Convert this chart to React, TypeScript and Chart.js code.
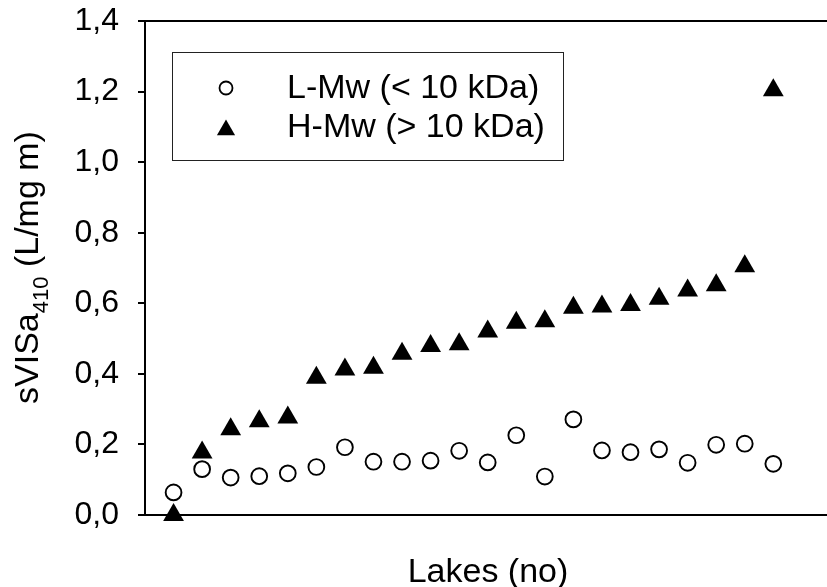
import React, { useEffect, useRef } from 'react';
import { Chart, registerables } from 'chart.js';

Chart.register(...registerables);

// Lake index (sorted by H-Mw absorbance)
const lakes = [1, 2, 3, 4, 5, 6, 7, 8, 9, 10, 11, 12, 13, 14, 15, 16, 17, 18, 19, 20, 21, 22];

// Specific visible absorbance at 410 nm, low molecular weight fraction
const lowMw = [0.064, 0.130, 0.106, 0.110, 0.118, 0.136, 0.192, 0.151, 0.151, 0.154, 0.182, 0.149, 0.226, 0.109, 0.271, 0.183, 0.178, 0.186, 0.148, 0.199, 0.202, 0.145];

// Specific visible absorbance at 410 nm, high molecular weight fraction
const highMw = [0.0, 0.177, 0.243, 0.266, 0.276, 0.389, 0.412, 0.417, 0.457, 0.479, 0.484, 0.520, 0.545, 0.549, 0.587, 0.591, 0.595, 0.613, 0.636, 0.651, 0.705, 1.204];

const yTickLabels = ['0,0', '0,2', '0,4', '0,6', '0,8', '1,0', '1,2', '1,4'];
const seriesNames = ['L-Mw (< 10 kDa)', 'H-Mw (> 10 kDa)'];
const xTitle = 'Lakes (no)';
const yTitleMain = 'sVISa';
const yTitleSub = '410';
const yTitleUnit = ' (L/mg m)';

const FONT = 'Arial, "Liberation Sans", sans-serif';

const decorations = {
  id: 'decorations',
  afterDraw(chart: any) {
    const { ctx, chartArea } = chart;
    ctx.save();

    // top frame line
    ctx.strokeStyle = '#000';
    ctx.lineWidth = 2;
    ctx.beginPath();
    ctx.moveTo(chartArea.left - 1, chartArea.top);
    ctx.lineTo(chartArea.right, chartArea.top);
    ctx.stroke();

    // legend box
    ctx.lineWidth = 1;
    ctx.strokeStyle = '#222';
    ctx.strokeRect(172.5, 52.5, 391, 108);

    // legend markers
    ctx.fillStyle = '#fff';
    ctx.strokeStyle = '#000';
    ctx.lineWidth = 1.8;
    ctx.beginPath();
    ctx.arc(226, 88, 6.5, 0, Math.PI * 2);
    ctx.fill();
    ctx.stroke();

    const r = 10.5;
    const tx = 226;
    const ty = 130;
    ctx.fillStyle = '#000';
    ctx.beginPath();
    ctx.moveTo(tx, ty - r);
    ctx.lineTo(tx + r * Math.sin((2 * Math.PI) / 3), ty + r / 2);
    ctx.lineTo(tx - r * Math.sin((2 * Math.PI) / 3), ty + r / 2);
    ctx.closePath();
    ctx.fill();

    // legend text
    ctx.fillStyle = '#000';
    ctx.font = `34px ${FONT}`;
    ctx.textAlign = 'left';
    ctx.textBaseline = 'alphabetic';
    ctx.fillText(seriesNames[0], 287, 98);
    ctx.fillText(seriesNames[1], 287, 137);

    // x axis title
    ctx.textAlign = 'center';
    ctx.fillText(xTitle, 488, 582);

    // y axis title with subscript
    ctx.font = `34px ${FONT}`;
    const w1 = ctx.measureText(yTitleMain).width;
    const w3 = ctx.measureText(yTitleUnit).width;
    ctx.font = `22px ${FONT}`;
    const w2 = ctx.measureText(yTitleSub).width;
    const total = w1 + w2 + w3;
    ctx.translate(38, 267.5);
    ctx.rotate(-Math.PI / 2);
    ctx.textAlign = 'left';
    ctx.font = `34px ${FONT}`;
    ctx.fillText(yTitleMain, -total / 2, 0);
    ctx.font = `22px ${FONT}`;
    ctx.fillText(yTitleSub, -total / 2 + w1, 10);
    ctx.font = `34px ${FONT}`;
    ctx.fillText(yTitleUnit, -total / 2 + w1 + w2, 0);

    ctx.restore();
  },
};

export default function App() {
  const canvasRef = useRef<HTMLCanvasElement | null>(null);

  useEffect(() => {
    const canvas = canvasRef.current;
    if (!canvas) return;
    const chart = new Chart(canvas, {
      type: 'scatter',
      data: {
        datasets: [
          {
            label: seriesNames[0],
            data: lakes.map((x, i) => ({ x, y: lowMw[i] })),
            pointStyle: 'circle',
            pointRadius: 7.9,
            pointBorderWidth: 1.9,
            pointBackgroundColor: '#fff',
            pointBorderColor: '#000',
            clip: false,
          },
          {
            label: seriesNames[1],
            data: lakes.map((x, i) => ({ x, y: highMw[i] })),
            pointStyle: 'triangle',
            pointRadius: 12,
            pointBorderWidth: 0,
            pointBackgroundColor: '#000',
            pointBorderColor: '#000',
            clip: false,
          },
        ],
      },
      options: {
        responsive: false,
        animation: false,
        devicePixelRatio: 1,
        layout: { autoPadding: false, padding: { top: 21, right: 0, bottom: 0, left: 0 } },
        plugins: {
          legend: { display: false },
          tooltip: { enabled: false },
          title: { display: false },
        },
        scales: {
          x: {
            type: 'linear',
            min: 0,
            max: 23.88,
            grid: { display: false, drawTicks: false },
            border: { display: true, color: '#000', width: 2 },
            ticks: { display: false },
            afterFit(scale: any) {
              scale.height = 72;
              scale.paddingLeft = 0;
              scale.paddingRight = 0;
            },
          },
          y: {
            type: 'linear',
            min: 0,
            max: 1.4,
            grid: {
              drawOnChartArea: false,
              drawTicks: true,
              tickLength: 7,
              color: '#000',
              lineWidth: 2,
            },
            border: { display: true, color: '#000', width: 2 },
            ticks: {
              stepSize: 0.2,
              padding: 19,
              color: '#000',
              font: { family: FONT, size: 32 },
              callback: (_v: any, i: number) => yTickLabels[i],
            },
            afterFit(scale: any) {
              scale.width = 145;
              scale.paddingTop = 0;
              scale.paddingBottom = 0;
            },
          },
        },
      },
      plugins: [decorations],
    });
    return () => chart.destroy();
  }, []);

  return (
    <div style={{ position: 'fixed', left: 0, top: 0, width: 827, height: 587, background: '#fff' }}>
      <canvas ref={canvasRef} width={827} height={587} style={{ display: 'block' }} />
    </div>
  );
}
